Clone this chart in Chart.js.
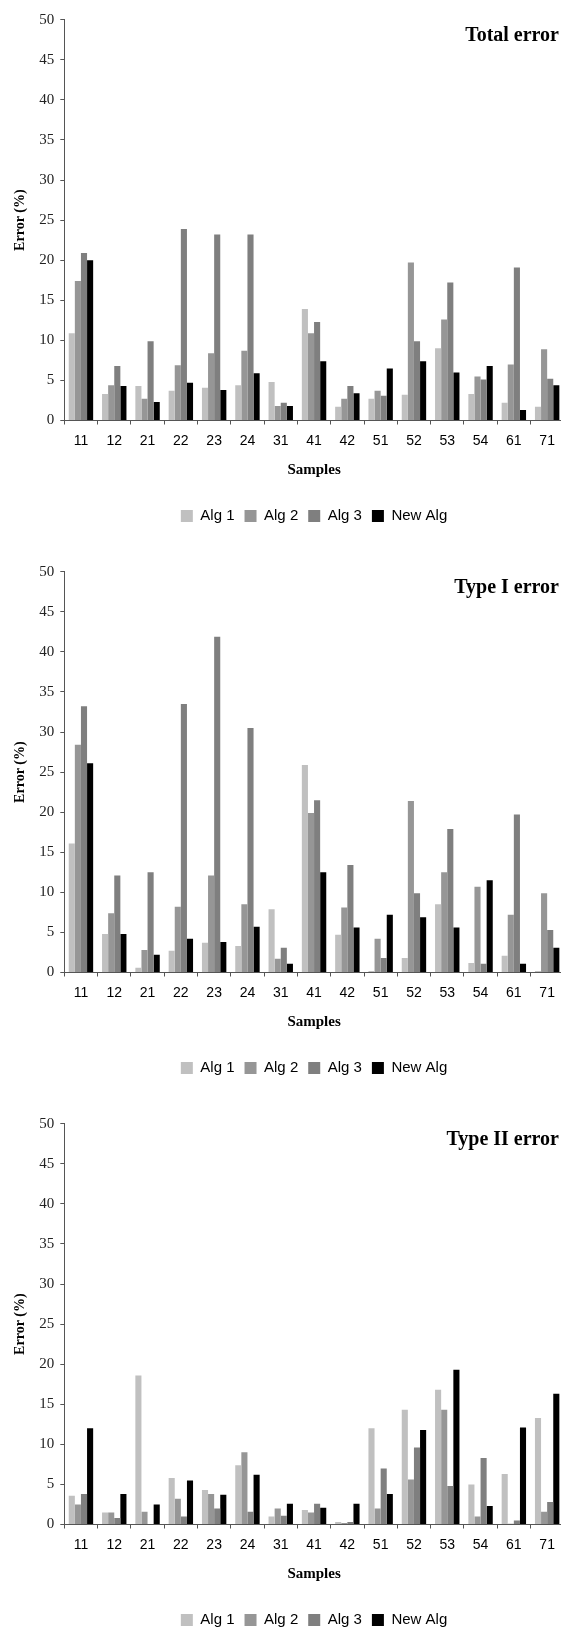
<!DOCTYPE html>
<html><head><meta charset="utf-8">
<script src="https://cdn.jsdelivr.net/npm/chart.js@4.4.0/dist/chart.umd.min.js"></script>
<style>
html,body{margin:0;padding:0;background:#fff;overflow:hidden;width:561px;height:1628px;position:relative;}
.box{position:absolute;left:0;width:572px;height:552px;}
</style></head><body>
<div class="box" style="top:0px"><canvas id="c1"></canvas></div>
<div class="box" style="top:552px"><canvas id="c2"></canvas></div>
<div class="box" style="top:1103.5px"><canvas id="c3"></canvas></div>
<script>
const samples = ['11','12','21','22','23','24','31','41','42','51','52','53','54','61','71'];
const seriesNames = ['Alg 1','Alg 2','Alg 3','New Alg'];
const yTicks = [0,5,10,15,20,25,30,35,40,45,50];

// Total error
const totalAlg1 = [10.9, 3.3, 4.3, 3.7, 4.1, 4.4, 4.8, 13.9, 1.7, 2.7, 3.2, 9.0, 3.3, 2.2, 1.7];
const totalAlg2 = [17.4, 4.4, 2.7, 6.9, 8.4, 8.7, 1.8, 10.9, 2.7, 3.7, 19.7, 12.6, 5.5, 7.0, 8.9];
const totalAlg3 = [20.9, 6.8, 9.9, 23.9, 23.2, 23.2, 2.2, 12.3, 4.3, 3.1, 9.9, 17.2, 5.1, 19.1, 5.2];
const totalNew  = [20.0, 4.3, 2.3, 4.7, 3.8, 5.9, 1.8, 7.4, 3.4, 6.5, 7.4, 6.0, 6.8, 1.3, 4.4];

// Type I error
const type1Alg1 = [16.1, 4.8, 0.6, 2.7, 3.7, 3.3, 7.9, 25.9, 4.7, 0.2, 1.8, 8.5, 1.2, 2.1, 0.2];
const type1Alg2 = [28.4, 7.4, 2.8, 8.2, 12.1, 8.5, 1.7, 19.9, 8.1, 4.2, 21.4, 12.5, 10.7, 7.2, 9.9];
const type1Alg3 = [33.2, 12.1, 12.5, 33.5, 41.9, 30.5, 3.1, 21.5, 13.4, 1.8, 9.9, 17.9, 1.1, 19.7, 5.3];
const type1New  = [26.1, 4.8, 2.2, 4.2, 3.8, 5.7, 1.1, 12.5, 5.6, 7.2, 6.9, 5.6, 11.5, 1.1, 3.1];

// Type II error
const type2Alg1 = [3.6, 1.5, 18.6, 5.8, 4.3, 7.4, 1.0, 1.8, 0.3, 12.0, 14.3, 16.8, 5.0, 6.3, 13.3];
const type2Alg2 = [2.5, 1.5, 1.6, 3.2, 3.8, 9.0, 2.0, 1.5, 0.2, 2.0, 5.6, 14.3, 1.0, 0.1, 1.6];
const type2Alg3 = [3.8, 0.8, 0.0, 1.0, 2.0, 1.6, 1.1, 2.6, 0.3, 7.0, 9.6, 4.8, 8.3, 0.5, 2.8];
const type2New  = [12.0, 3.8, 2.5, 5.5, 3.7, 6.2, 2.6, 2.1, 2.6, 3.8, 11.8, 19.3, 2.3, 12.1, 16.3];

const colors = ['#c0c0c0', '#969696', '#7f7f7f', '#000000'];

const cornerTitle = {
  id: 'cornerTitle',
  afterDraw(chart, args, opts) {
    const ctx = chart.ctx;
    ctx.save();
    ctx.font = 'bold 20px "Liberation Serif", "Times New Roman", serif';
    ctx.fillStyle = '#000';
    ctx.textAlign = 'right';
    ctx.textBaseline = 'middle';
    ctx.fillText(opts.text, 559, 36);
    ctx.restore();
  }
};

function makeChart(id, title, series) {
  const datasets = series.map((vals, i) => ({
    label: seriesNames[i],
    data: vals,
    backgroundColor: colors[i],
    borderWidth: 0,
    categoryPercentage: 0.733,
    barPercentage: 1.0
  }));
  new Chart(document.getElementById(id), {
    type: 'bar',
    data: { labels: samples, datasets },
    plugins: [cornerTitle],
    options: {
      responsive: true,
      maintainAspectRatio: false,
      animation: false,
      events: [],
      layout: { padding: { top: 19.7, right: 8.2, bottom: 18.5, left: 0 } },
      plugins: {
        tooltip: { enabled: false },
        cornerTitle: { text: title },
        legend: {
          position: 'bottom',
          fullSize: false,
          labels: {
            boxWidth: 12, boxHeight: 12, padding: 10,
            color: '#000',
            font: { family: '"Liberation Sans", Arial, sans-serif', size: 15 }
          }
        }
      },
      scales: {
        x: {
          grid: { display: true, drawOnChartArea: false, drawTicks: true, tickLength: 4, color: '#555', offset: true },
          border: { display: true, color: '#555', width: 1 },
          ticks: {
            autoSkip: false, maxRotation: 0, padding: 8, color: '#000',
            font: { family: '"Liberation Sans", Arial, sans-serif', size: 14 }
          },
          title: {
            display: true, text: 'Samples', color: '#000',
            font: { family: '"Liberation Serif", "Times New Roman", serif', size: 15, weight: 'bold' },
            padding: { top: 0, bottom: 19.7 }
          },
          afterFit(scale) { scale.height = 78; }
        },
        y: {
          min: 0, max: 50,
          afterBuildTicks(scale) { scale.ticks = yTicks.map(v => ({ value: v })); },
          grid: { display: true, drawOnChartArea: false, drawTicks: true, tickLength: 4, color: '#555' },
          border: { display: true, color: '#555', width: 1 },
          ticks: {
            padding: 6, color: '#222',
            font: { family: '"Liberation Serif", "Times New Roman", serif', size: 15 }
          },
          title: {
            display: true, text: 'Error (%)', color: '#000',
            font: { family: '"Liberation Serif", "Times New Roman", serif', size: 14, weight: 'bold' },
            padding: { top: 12, bottom: 0 }
          },
          afterFit(scale) { scale.width = 64.3; }
        }
      }
    }
  });
}

makeChart('c1', 'Total error', [totalAlg1, totalAlg2, totalAlg3, totalNew]);
makeChart('c2', 'Type I error', [type1Alg1, type1Alg2, type1Alg3, type1New]);
makeChart('c3', 'Type II error', [type2Alg1, type2Alg2, type2Alg3, type2New]);
</script>
</body></html>
